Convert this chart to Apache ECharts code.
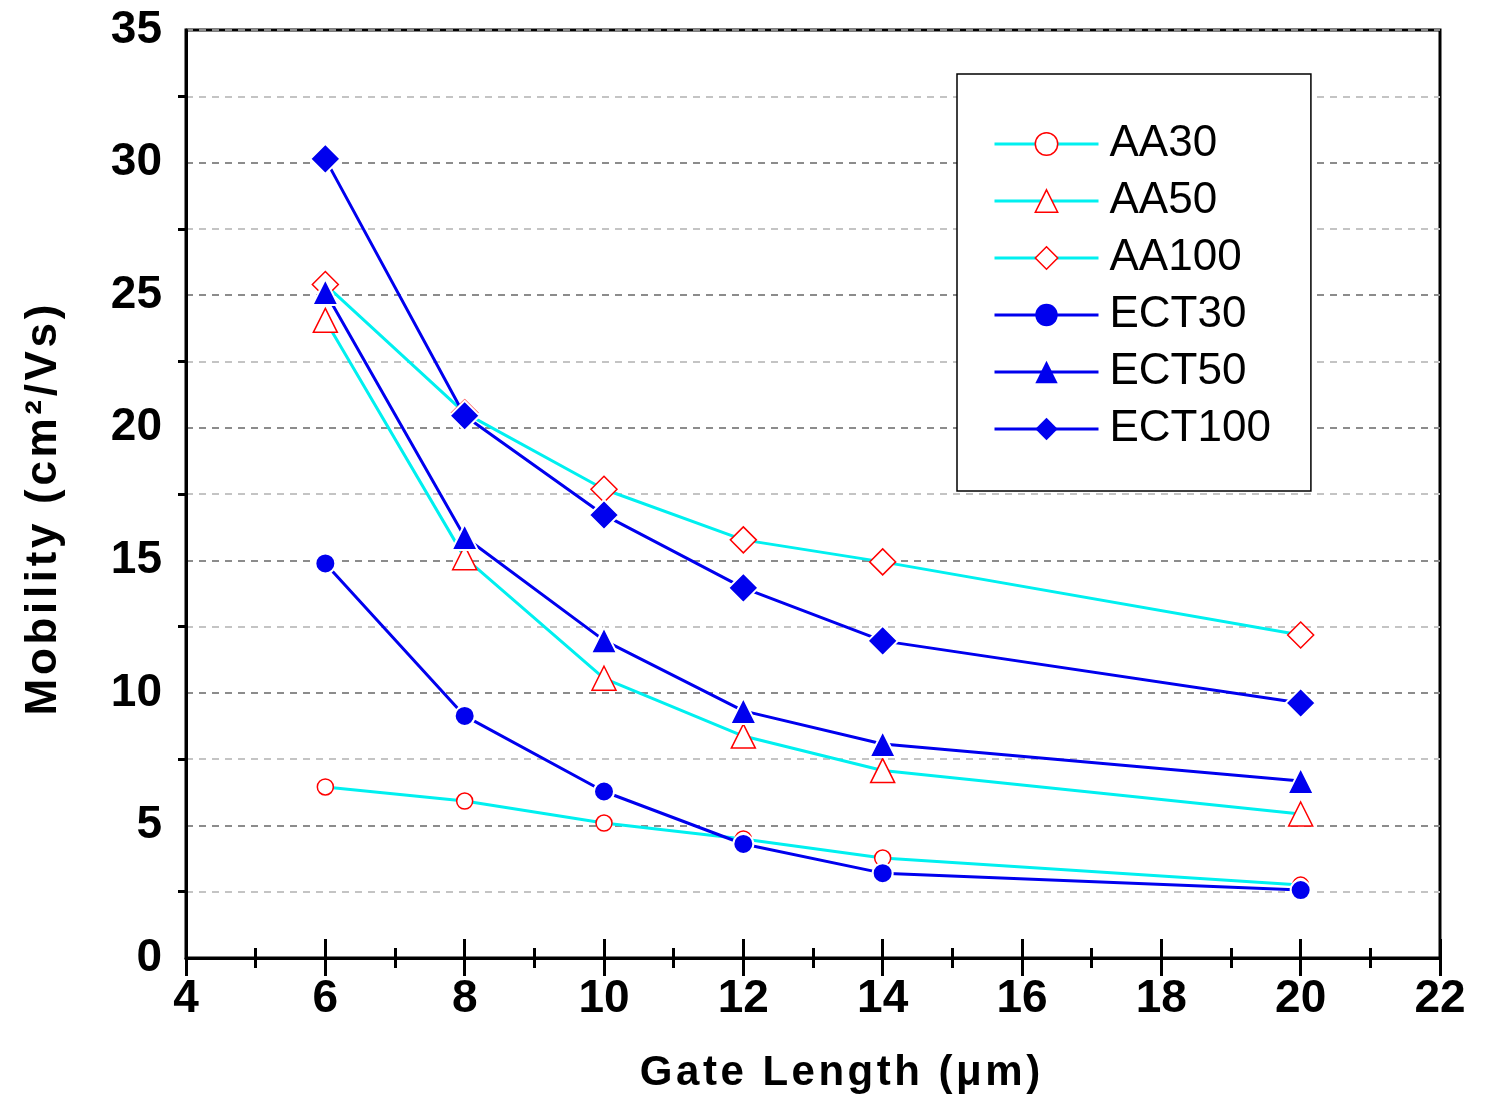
<!DOCTYPE html>
<html>
<head>
<meta charset="utf-8">
<script src="https://cdn.jsdelivr.net/npm/echarts@6/dist/echarts.min.js"></script>
<style>html,body{margin:0;padding:0;background:#fff}#c{width:1487px;height:1099px}</style>
</head>
<body>
<div id="c"></div>
<script>
const gateLength = [6, 8, 10, 12, 14, 20];
const AA30 = [6.45, 5.92, 5.09, 4.49, 3.77, 2.75];
const AA50 = [24.05, 15.1, 10.55, 8.37, 7.07, 5.43];
const AA100 = [25.4, 20.56, 17.68, 15.77, 14.94, 12.18];
const ECT30 = [14.88, 9.13, 6.28, 4.3, 3.2, 2.56];
const ECT50 = [25.12, 15.88, 11.98, 9.32, 8.07, 6.68];
const ECT100 = [30.14, 20.45, 16.71, 13.96, 11.96, 9.62];
const seriesNames = ['AA30', 'AA50', 'AA100', 'ECT30', 'ECT50', 'ECT100'];
const xTitle = 'Gate Length (\u03bcm)';
const yTitle = 'Mobility (cm\u00b2/Vs)';

const FONT = '"Liberation Sans", Arial, sans-serif';
const CYAN = '#00f0f0', BLUE = '#0000ee', RED = '#ff0000';

function spaced(s) { return Array.from(s).join('\u200a'); }
function pairs(vals) { return gateLength.map((x, i) => [x, vals[i]]); }

function mk(name, vals, isAA, symbol, size) {
  return {
    name: name, type: 'line', data: pairs(vals),
    symbol: symbol, symbolSize: size, showSymbol: true,
    lineStyle: { color: isAA ? CYAN : BLUE, width: 3 },
    itemStyle: isAA ? { color: '#fff', borderColor: RED, borderWidth: 1.5 }
                    : { color: BLUE, borderColor: '#fff', borderWidth: 2 },
    color: isAA ? CYAN : BLUE,
    z: isAA ? 2 : 3
  };
}

const chart = echarts.init(document.getElementById('c'), null, { renderer: 'canvas' });
chart.setOption({
  animation: false,
  grid: { left: 186, top: 30, width: 1254, height: 928, show: true, borderColor: '#000', borderWidth: 3, backgroundColor: 'transparent' },
  legend: {
    orient: 'vertical', left: 957, top: 74,
    data: seriesNames.map(n => ({
      name: n,
      lineStyle: { width: 3 },
      itemStyle: n.indexOf('ECT') === 0 ? { color: BLUE, borderWidth: 0 } : { color: '#fff', borderColor: RED, borderWidth: 1.5 }
    })),
    itemWidth: 104, itemHeight: 28, itemGap: 13,
    padding: [48, 40, 40, 36],
    borderColor: '#000', borderWidth: 1.5, backgroundColor: '#fff',
    lineStyle: { width: 3 },
    textStyle: { fontFamily: FONT, fontSize: 44, color: '#000', lineHeight: 44, padding: [0, 0, 0, 6] }
  },
  xAxis: [{
    type: 'value', min: 4, max: 22, interval: 2,
    axisLine: { lineStyle: { color: '#000', width: 3 } },
    axisTick: { show: true, inside: false, length: 18, lineStyle: { color: '#000', width: 3 } },
    minorTick: { show: true, splitNumber: 2, length: 10, lineStyle: { color: '#000', width: 3 } },
    splitLine: { show: false },
    axisLabel: { fontFamily: FONT, fontSize: 46, fontWeight: 'bold', color: '#000', margin: 18 },
    name: spaced(xTitle), nameLocation: 'middle', nameGap: 94,
    nameTextStyle: { fontFamily: FONT, fontSize: 42, fontWeight: 'bold', color: '#000', padding: [0, 0, 0, 54] }
  }, {
    type: 'value', min: 4, max: 22, interval: 2, position: 'bottom', offset: 0,
    axisLine: { show: false },
    axisTick: { show: true, inside: true, length: 19, lineStyle: { color: '#000', width: 3 } },
    minorTick: { show: true, splitNumber: 2, length: 10, lineStyle: { color: '#000', width: 3 } },
    splitLine: { show: false },
    axisLabel: { show: false }
  }],
  yAxis: {
    type: 'value', min: 0, max: 35, interval: 5,
    axisLine: { show: true, lineStyle: { color: '#000', width: 3 } },
    axisTick: { show: true, length: 0, lineStyle: { color: '#000', width: 0 } },
    minorTick: { show: true, splitNumber: 2, length: 8, lineStyle: { color: '#000', width: 3 } },
    splitLine: { show: true, lineStyle: { color: '#8c8c8c', width: 2, type: [7, 6] } },
    minorSplitLine: { show: true, lineStyle: { color: '#c4c4c4', width: 2, type: [7, 6] } },
    axisLabel: { fontFamily: FONT, fontSize: 46, fontWeight: 'bold', color: '#000', margin: 24 },
    name: spaced(yTitle), nameLocation: 'middle', nameGap: 120, nameRotate: 90,
    nameTextStyle: { fontFamily: FONT, fontSize: 44, fontWeight: 'bold', color: '#000', padding: [0, 32, 0, 0] }
  },
  series: [
    mk('AA30', AA30, true, 'circle', 16),
    mk('AA50', AA50, true, 'triangle', 24),
    mk('AA100', AA100, true, 'diamond', 26),
    mk('ECT30', ECT30, false, 'circle', 20),
    mk('ECT50', ECT50, false, 'triangle', 26),
    mk('ECT100', ECT100, false, 'diamond', 30)
  ]
});
</script>
</body>
</html>
